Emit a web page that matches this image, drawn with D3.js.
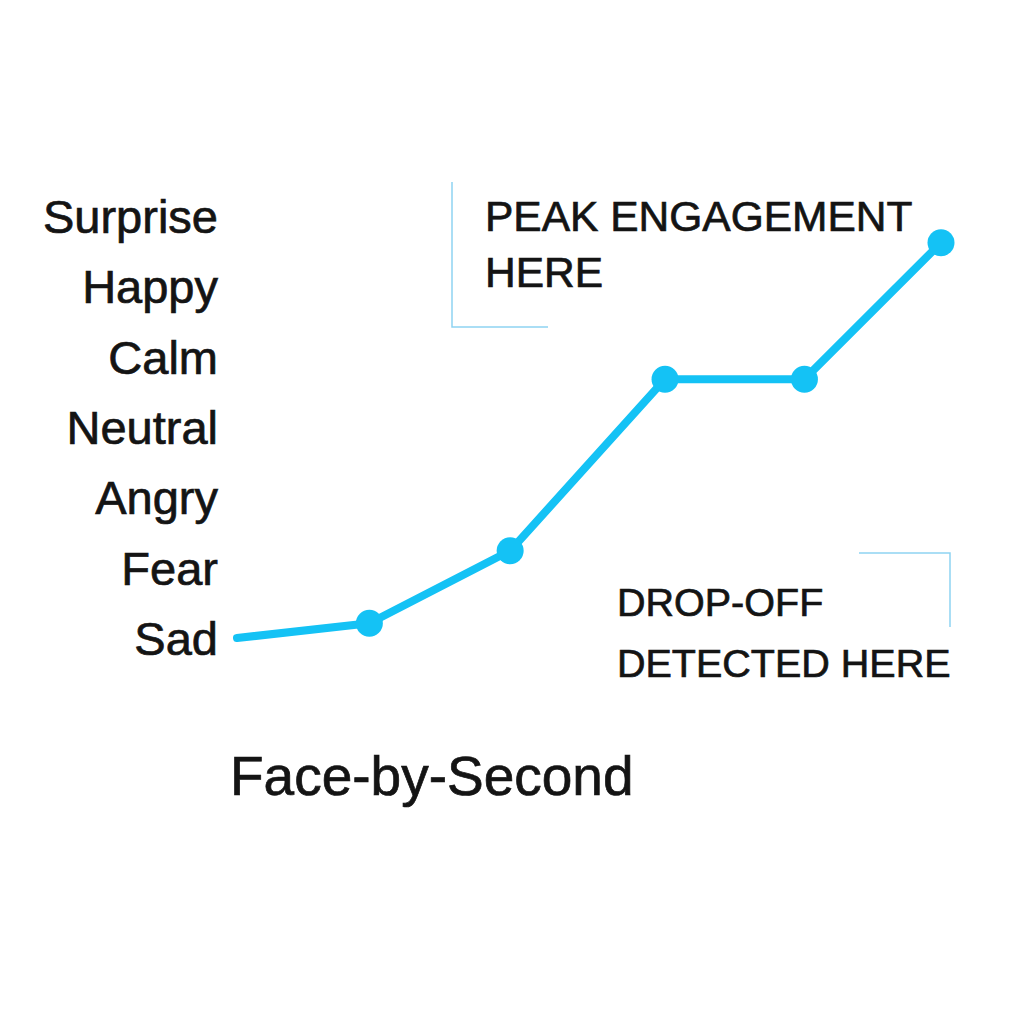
<!DOCTYPE html>
<html><head><meta charset="utf-8">
<script src="https://cdn.jsdelivr.net/npm/d3@7"></script>
<style>html,body{margin:0;padding:0;background:#fff}</style>
</head><body>
<script>
const emotions = ["Sad","Fear","Angry","Neutral","Calm","Happy","Surprise"];
const seconds = [0, 0.94, 1.94, 3.04, 4.03, 5];
const scores = [0, 0.21, 1.24, 3.68, 3.68, 5.62];
const markerShown = [false, true, true, true, true, true];
const xLabel = "Face-by-Second";
const peakNote = ["PEAK ENGAGEMENT", "HERE"];
const dropNote = ["DROP-OFF", "DETECTED HERE"];

const W = 1024, H = 1024;
const FONT = "'Liberation Sans', Arial, sans-serif";
const svg = d3.select("body").append("svg").attr("width", W).attr("height", H)
  .style("font-family", FONT);

const x = d3.scaleLinear().domain([0, 5]).range([237, 941]);
const y = d3.scaleLinear().domain([0, 6]).range([638, 216]);
const lineColor = "#14c2f5";
const txt = "#141414";

function thicken(sel) {
  sel.attr("fill", txt).attr("stroke", txt).attr("stroke-width", 0.7)
    .attr("font-family", FONT);
}

// y axis (category labels only)
const yAxis = d3.axisLeft(y).tickValues(d3.range(emotions.length))
  .tickFormat(i => emotions[i]).tickSize(0).tickPadding(0);
const gy = svg.append("g").attr("transform", "translate(218,0)").call(yAxis);
gy.select(".domain").remove();
gy.selectAll("text").attr("font-size", 47).attr("dy", "0.35em").call(thicken);

// x label
svg.append("text").attr("x", 230).attr("y", 795).attr("font-size", 55)
  .text(xLabel).call(thicken);

const data = seconds.map((s, i) => ({s, v: scores[i], m: markerShown[i]}));
const line = d3.line().x(d => x(d.s)).y(d => y(d.v));
svg.append("path").datum(data).attr("d", line).attr("fill", "none")
  .attr("stroke", lineColor).attr("stroke-width", 8)
  .attr("stroke-linecap", "round").attr("stroke-linejoin", "round");
svg.selectAll("circle.pt").data(data.filter(d => d.m)).join("circle")
  .attr("class", "pt").attr("cx", d => x(d.s)).attr("cy", d => y(d.v))
  .attr("r", 13.5).attr("fill", lineColor);

// annotation: peak
const annColor = "#8ed3f2";
svg.append("path").attr("d", "M452,182V327H548").attr("fill", "none")
  .attr("stroke", annColor).attr("stroke-width", 1.5);
svg.selectAll("text.peak").data(peakNote).join("text").attr("class", "peak")
  .attr("x", 485).attr("y", (d, i) => 231 + i * 56).attr("font-size", 42.5)
  .text(d => d).call(thicken);

// annotation: drop-off
svg.append("path").attr("d", "M859,553H950V627").attr("fill", "none")
  .attr("stroke", annColor).attr("stroke-width", 1.5);
svg.selectAll("text.drop").data(dropNote).join("text").attr("class", "drop")
  .attr("x", 617).attr("y", (d, i) => 616 + i * 61).attr("font-size", 39.5)
  .text(d => d).call(thicken);
</script>
</body></html>
